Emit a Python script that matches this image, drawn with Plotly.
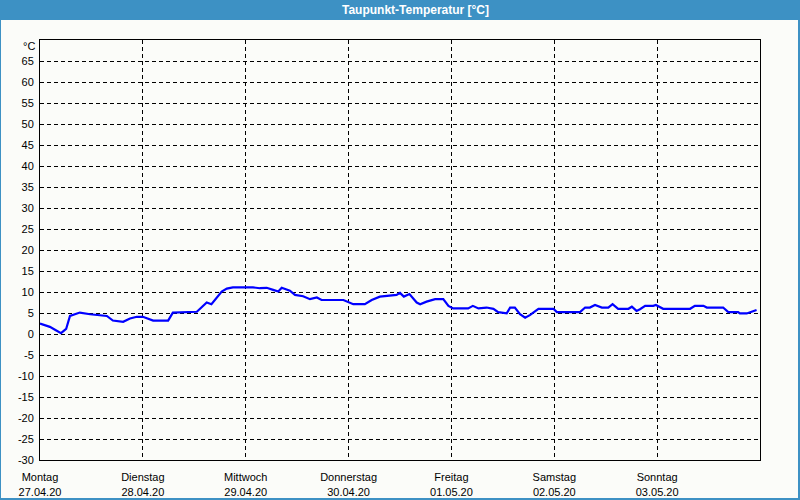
import plotly.graph_objects as go

# Hours since Monday 27.04.20 00:00 and dew point values (°C)
hours = [0, 1.2, 2.3, 3.5, 4.9, 6.1, 7.0, 9.3, 11.7, 15.6, 17.0, 19.4, 21.0, 22.6, 24.0,
         26.4, 29.9, 31.0, 36.6, 38.9, 40.0, 42.4, 43.6, 45.0, 49.7, 51.3, 52.9, 54.4,
         55.6, 56.4, 57.6, 58.3, 59.5, 61.4, 63.0, 64.6, 65.7, 70.8, 73.1, 75.8, 77.4,
         79.3, 83.2, 84.0, 84.9, 86.2, 87.9, 88.7, 90.2, 92.2, 94.1, 95.3, 96.4, 99.9,
         101.0, 102.3, 104.2, 105.8, 106.9, 108.9, 109.7, 110.8, 112.0, 113.2, 114.3,
         116.3, 119.8, 120.6, 126.0, 127.2, 128.3, 129.5, 131.1, 132.6, 133.6, 134.9,
         137.3, 138.1, 139.2, 140.0, 141.2, 143.1, 143.7, 145.4, 151.7, 152.8, 154.8,
         155.6, 159.4, 160.6, 162.9, 163.3, 164.9, 166.0, 167.2]
dewpoint = [2.5, 2.0, 1.7, 1.0, 0.2, 1.2, 4.3, 5.1, 4.7, 4.3, 3.2, 2.9, 3.7, 4.1, 4.1,
            3.2, 3.2, 5.1, 5.3, 7.5, 7.1, 10.1, 10.8, 11.1, 11.1, 10.9, 11.0, 10.5,
            10.1, 11.0, 10.6, 10.3, 9.3, 9.0, 8.3, 8.7, 8.1, 8.1, 7.1, 7.1, 8.1,
            8.9, 9.3, 9.8, 8.9, 9.5, 7.5, 7.1, 7.7, 8.3, 8.3, 6.7, 6.1, 6.1,
            6.7, 6.1, 6.3, 6.0, 5.2, 4.9, 6.3, 6.3, 4.7, 3.9, 4.5,
            6.0, 6.0, 5.2, 5.2, 6.3, 6.3, 6.9, 6.3, 6.3, 7.1, 6.0,
            6.0, 6.5, 5.5, 5.9, 6.7, 6.7, 6.9, 6.0, 6.0, 6.7, 6.7,
            6.3, 6.3, 5.2, 5.2, 4.9, 4.9, 5.3, 5.7]

day_hours = [0, 24, 48, 72, 96, 120, 144]
day_names = ["Montag", "Dienstag", "Mittwoch", "Donnerstag", "Freitag", "Samstag", "Sonntag"]
day_dates = ["27.04.20", "28.04.20", "29.04.20", "30.04.20", "01.05.20", "02.05.20", "03.05.20"]
y_ticks = list(range(-30, 70, 5))
title_text = "Taupunkt-Temperatur [°C]"
unit_label = "°C"

BLUE = "#3D91C4"
BG = "#fbfcf9"

fig = go.Figure()
fig.add_trace(go.Scatter(x=hours, y=dewpoint, mode="lines",
                         line=dict(color="#0000ff", width=2.2), hoverinfo="skip"))

W, H = 800, 500
L, R, T, B = 40, 40, 40, 40
pw, ph = W - L - R, H - T - B

def px_x(px):
    return (px - L) / pw

def px_y(py):
    return (H - B - py) / ph

fig.update_layout(
    width=W, height=H,
    margin=dict(l=L, r=R, t=T, b=B, autoexpand=False),
    paper_bgcolor=BG, plot_bgcolor=BG,
    showlegend=False,
    font=dict(family="Liberation Sans", size=11, color="black"),
    xaxis=dict(range=[0, 168], tickmode="array", tickvals=day_hours,
               ticktext=[f"{n}<br>{d}" for n, d in zip(day_names, day_dates)],
               showgrid=True, gridcolor="black", griddash="4px,3px", gridwidth=1,
               showline=True, linecolor="black", linewidth=1, mirror=True,
               zeroline=False, ticks="", ticklabelstandoff=7, automargin=False,
               fixedrange=True),
    yaxis=dict(range=[-30, 70], tickmode="array", tickvals=y_ticks,
               ticktext=[str(v) for v in y_ticks],
               showgrid=True, gridcolor="black", griddash="4px,3px", gridwidth=1,
               showline=True, linecolor="black", linewidth=1, mirror=True,
               zeroline=False, ticks="", ticklabelstandoff=3, automargin=False,
               fixedrange=True),
    shapes=[
        dict(type="rect", xref="paper", yref="paper",
             x0=px_x(0), x1=px_x(800), y0=px_y(20), y1=px_y(0),
             fillcolor=BLUE, line=dict(width=0), layer="above"),
        dict(type="rect", xref="paper", yref="paper",
             x0=px_x(0), x1=px_x(799), y0=px_y(499), y1=px_y(0),
             fillcolor="rgba(0,0,0,0)", line=dict(color=BLUE, width=2), layer="above"),
    ],
    annotations=[
        dict(text="<b>" + title_text + "</b>", xref="paper", yref="paper",
             x=px_x(415), y=px_y(10), xanchor="center", yanchor="middle",
             showarrow=False, font=dict(color="white", size=12, family="Liberation Sans")),
        dict(text=unit_label, xref="paper", yref="paper",
             x=px_x(37), y=px_y(46), xanchor="right", yanchor="middle",
             showarrow=False, font=dict(color="black", size=11, family="Liberation Sans")),
    ],
)

fig.write_html("out.html")
